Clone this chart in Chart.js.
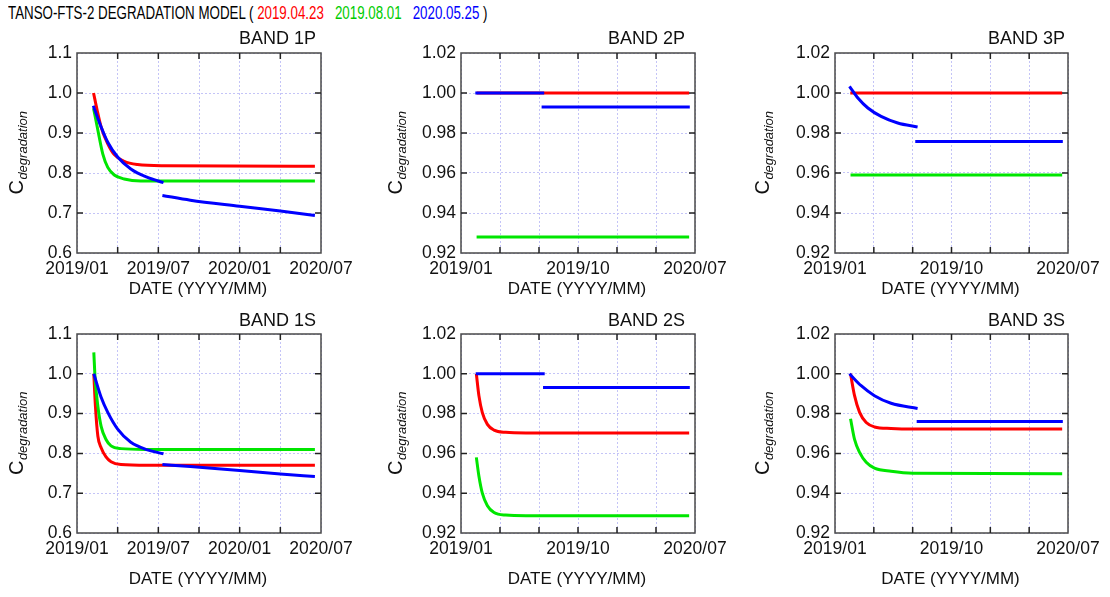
<!DOCTYPE html>
<html><head><meta charset="utf-8">
<script src="https://cdn.jsdelivr.net/npm/chart.js@4.4.0/dist/chart.umd.min.js"></script>
<style>
html,body{margin:0;padding:0;background:#fff;width:1110px;height:597px;overflow:hidden;font-family:"Liberation Sans",Arial,sans-serif;}
#title{position:absolute;left:8px;top:3px;font-size:18px;white-space:pre;transform-origin:0 0;transform:scaleX(0.74);color:#000;}
.box{position:absolute;}
</style></head><body>
<div id="title">TANSO-FTS-2 DEGRADATION MODEL ( <span style="color:#ff0000">2019.04.23</span>   <span style="color:#00cc00">2019.08.01</span>   <span style="color:#0000ff">2020.05.25</span> )</div>
<div class="box" id="p0"><canvas></canvas></div>
<div class="box" id="p1"><canvas></canvas></div>
<div class="box" id="p2"><canvas></canvas></div>
<div class="box" id="p3"><canvas></canvas></div>
<div class="box" id="p4"><canvas></canvas></div>
<div class="box" id="p5"><canvas></canvas></div>
<script>
// ---------- DATA (x = months since 2019/01, y = C_degradation) ----------
const BANDS = ['BAND 1P', 'BAND 2P', 'BAND 3P', 'BAND 1S', 'BAND 2S', 'BAND 3S'];
const X_LABELS_B1  = ['2019/01', '', '2019/07', '', '2020/01', '', '2020/07'];
const X_LABELS_B23 = ['2019/01', '', '', '2019/10', '', '', '2020/07'];

// BAND 1P
const red1P   = [[1.22,1.0],[1.48,0.958],[1.78,0.915],[2.27,0.873],[2.75,0.846],[3.48,0.829],[4.46,0.821],[6.4,0.818],[17.55,0.817]];
const green1P = [[1.22,0.962],[1.54,0.907],[1.9,0.848],[2.27,0.814],[2.75,0.795],[3.48,0.785],[4.7,0.78],[17.55,0.78]];
const blue1Pa = [[1.2,0.968],[1.78,0.915],[2.27,0.877],[3.0,0.84],[3.97,0.81],[5.2,0.789],[6.38,0.776]];
const blue1Pb = [[6.3,0.744],[8.36,0.732],[12.0,0.717],[15.0,0.705],[17.55,0.694]];
// BAND 2P
const red2P   = [[1.2,1.0],[17.55,1.0]];
const green2P = [[1.2,0.928],[17.55,0.928]];
const blue2Pa = [[1.1,1.0],[6.4,1.0]];
const blue2Pb = [[6.2,0.993],[17.6,0.993]];
// BAND 3P
const red3P   = [[1.18,1.0],[17.55,1.0]];
const green3P = [[1.2,0.959],[17.55,0.959]];
const blue3Pa = [[1.12,1.0033],[1.77,0.9975],[2.54,0.9925],[3.56,0.9883],[4.85,0.985],[6.38,0.983]];
const blue3Pb = [[6.2,0.9757],[17.6,0.9757]];
// BAND 1S
const red1S   = [[1.24,1.0],[1.36,0.918],[1.54,0.843],[1.78,0.814],[2.14,0.791],[2.51,0.779],[3.24,0.772],[5.2,0.77],[17.55,0.77]];
const green1S = [[1.24,1.054],[1.34,0.986],[1.54,0.918],[1.78,0.868],[2.14,0.835],[2.51,0.819],[3.24,0.812],[5.0,0.81],[17.55,0.81]];
const blue1Sa = [[1.24,1.0],[1.78,0.941],[2.27,0.903],[3.0,0.861],[3.97,0.828],[5.2,0.809],[6.38,0.799]];
const blue1Sb = [[6.3,0.772],[8.36,0.767],[12.0,0.757],[15.0,0.748],[17.55,0.742]];
// BAND 2S
const red2S   = [[1.18,1.0],[1.38,0.9889],[1.64,0.9805],[2.03,0.9746],[2.54,0.9717],[3.44,0.9706],[5.0,0.9703],[17.55,0.9703]];
const green2S = [[1.18,0.958],[1.38,0.9485],[1.64,0.94],[2.03,0.9337],[2.54,0.9303],[3.44,0.929],[5.0,0.9287],[17.55,0.9287]];
const blue2Sa = [[1.13,1.0],[6.44,1.0]];
const blue2Sb = [[6.31,0.9931],[17.6,0.9931]];
// BAND 3S
const red3S   = [[1.2,1.0],[1.51,0.989],[1.9,0.9806],[2.41,0.9755],[3.05,0.9733],[4.33,0.9725],[6.0,0.9722],[17.55,0.9722]];
const green3S = [[1.2,0.9774],[1.51,0.967],[1.9,0.9605],[2.41,0.9555],[3.05,0.9526],[4.33,0.951],[6.0,0.95],[17.55,0.9498]];
const blue3Sa = [[1.12,1.0],[2.02,0.994],[3.05,0.989],[4.33,0.9852],[6.38,0.9826]];
const blue3Sb = [[6.31,0.976],[17.6,0.976]];

const SERIES = [
  {red: red1P, green: green1P, blueA: blue1Pa, blueB: blue1Pb},
  {red: red2P, green: green2P, blueA: blue2Pa, blueB: blue2Pb},
  {red: red3P, green: green3P, blueA: blue3Pa, blueB: blue3Pb},
  {red: red1S, green: green1S, blueA: blue1Sa, blueB: blue1Sb},
  {red: red2S, green: green2S, blueA: blue2Sa, blueB: blue2Sb},
  {red: red3S, green: green3S, blueA: blue3Sa, blueB: blue3Sb},
];
const Y_RANGE_B1  = {min: 0.6, max: 1.1, step: 0.1, dec: 1};
const Y_RANGE_B23 = {min: 0.92, max: 1.02, step: 0.02, dec: 2};

// ---------- LAYOUT ----------
const COLS = [{left:0, w:365, pl:77, pr:321, yTitleOff:61, bandInset:5},
              {left:365, w:372, pl:461, pr:695, yTitleOff:66, bandInset:10},
              {left:737, w:373, pl:835, pr:1068, yTitleOff:73, bandInset:3}];
const ROWS = [{top:26, h:274, pt:53, pb:253, xTitleOff:36, bandOff:13.5},
              {top:300, h:297, pt:334, pb:533, xTitleOff:46, bandOff:12.5}];
const FONT = '"Liberation Sans", Arial, sans-serif';
const COLORS = {red:'#ff0000', green:'#00e600', blue:'#0000ff'};
const GRID = '#c4c4f7';

const decoPlugin = {
  id: 'deco',
  afterDraw(chart) {
    const o = chart.options.plugins.deco;
    const ctx = chart.ctx, a = chart.chartArea;
    const xs = chart.scales.x, ys = chart.scales.y;
    ctx.save();
    // frame
    ctx.strokeStyle = '#4a4a4a'; ctx.lineWidth = 1.5;
    ctx.strokeRect(a.left, a.top, a.right - a.left, a.bottom - a.top);
    // inward ticks
    ctx.strokeStyle = '#222'; ctx.lineWidth = 1.5;
    const tl = 6;
    ctx.beginPath();
    xs.ticks.forEach(t => {
      const px = xs.getPixelForValue(t.value);
      if (px <= a.left + 1 || px >= a.right - 1) return;
      ctx.moveTo(px, a.bottom); ctx.lineTo(px, a.bottom - tl);
      ctx.moveTo(px, a.top); ctx.lineTo(px, a.top + tl);
    });
    ys.ticks.forEach(t => {
      const py = ys.getPixelForValue(t.value);
      if (py <= a.top + 1 || py >= a.bottom - 1) return;
      ctx.moveTo(a.left, py); ctx.lineTo(a.left + tl, py);
      ctx.moveTo(a.right, py); ctx.lineTo(a.right - tl, py);
    });
    ctx.stroke();
    // band title
    ctx.fillStyle = '#111';
    ctx.font = '18px ' + FONT;
    ctx.textAlign = 'right'; ctx.textBaseline = 'middle';
    ctx.fillText(o.band, a.right - o.bandInset, a.top - o.bandOff);
    // x title
    ctx.font = '17px ' + FONT;
    ctx.textAlign = 'center';
    ctx.fillText('DATE (YYYY/MM)', (a.left + a.right) / 2 - 1, a.bottom + o.xTitleOff);
    // y title C_degradation
    const cy = (a.top + a.bottom) / 2;
    const cx = a.left - o.yTitleOff;
    ctx.translate(cx + 7, cy);
    ctx.rotate(-Math.PI / 2);
    ctx.font = '20px ' + FONT;
    const wC = ctx.measureText('C').width;
    ctx.font = 'italic 13px ' + FONT;
    const wS = ctx.measureText('degradation').width;
    const start = -(wC + wS) / 2;
    ctx.textAlign = 'left'; ctx.textBaseline = 'alphabetic';
    ctx.font = '20px ' + FONT;
    ctx.fillText('C', start, 0);
    ctx.font = 'italic 13px ' + FONT;
    ctx.fillText('degradation', start + wC + 0.5, 4);
    ctx.restore();
  }
};

function toPts(arr) { return arr.map(p => ({x: p[0], y: p[1]})); }

BANDS.forEach((band, i) => {
  const col = COLS[i % 3], row = ROWS[Math.floor(i / 3)];
  const el = document.getElementById('p' + i);
  el.style.left = col.left + 'px'; el.style.top = row.top + 'px';
  el.style.width = col.w + 'px'; el.style.height = row.h + 'px';
  const isB1 = (i % 3) === 0;
  const yr = isB1 ? Y_RANGE_B1 : Y_RANGE_B23;
  const xl = isB1 ? X_LABELS_B1 : X_LABELS_B23;
  const s = SERIES[i];
  const ds = (data, color, order) => ({data: toPts(data), borderColor: color, backgroundColor: color,
      borderWidth: 3, pointRadius: 0, fill: false, cubicInterpolationMode: 'monotone', order: order});
  const yW = col.pl - col.left;
  const xH = row.top + row.h - row.pb;
  new Chart(el.querySelector('canvas'), {
    type: 'line',
    data: {datasets: [
      ds(s.blueA, COLORS.blue, 0), ds(s.blueB, COLORS.blue, 0),
      ds(s.green, COLORS.green, 1), ds(s.red, COLORS.red, 2)
    ]},
    options: {
      responsive: true, maintainAspectRatio: false, animation: false,
      layout: {padding: {left: 0, top: row.pt - row.top, right: col.left + col.w - col.pr, bottom: 0}},
      plugins: {legend: {display: false}, tooltip: {enabled: false},
        deco: {band: band, bandInset: col.bandInset, bandOff: row.bandOff, xTitleOff: row.xTitleOff, yTitleOff: col.yTitleOff}},
      scales: {
        x: {type: 'linear', min: 0, max: 18,
          afterFit: sc => { sc.height = xH; },
          grid: {color: GRID, lineWidth: 1, drawTicks: false},
          border: {display: false, dash: [2, 2]},
          ticks: {stepSize: 3, autoSkip: false, maxRotation: 0, padding: 6, color: '#111',
            font: {family: FONT, size: 17.5}, callback: (v, idx) => xl[idx]}},
        y: {type: 'linear', min: yr.min, max: yr.max,
          afterFit: sc => { sc.width = yW; },
          grid: {color: GRID, lineWidth: 1, drawTicks: false},
          border: {display: false, dash: [2, 2]},
          ticks: {stepSize: yr.step, autoSkip: false, padding: 5, color: '#111',
            font: {family: FONT, size: 17.5}, callback: v => Number(v).toFixed(yr.dec)}}
      }
    },
    plugins: [decoPlugin]
  });
});
</script>
</body></html>
